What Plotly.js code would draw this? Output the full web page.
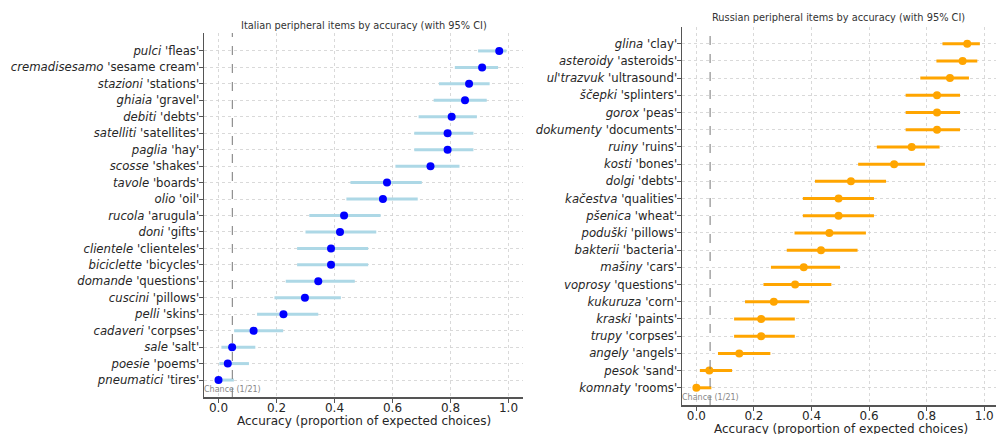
<!DOCTYPE html>
<html>
<head>
<meta charset="utf-8">
<script src="https://cdn.plot.ly/plotly-3.0.1.min.js"></script>
<style>html,body{margin:0;padding:0;background:#fff;}#chart{width:996px;height:434px;}</style>
</head>
<body>
<div id="chart"></div>
<script>
// ---- Italian panel data (top to bottom) ----
const itWords = ["pulci","cremadisesamo","stazioni","ghiaia","debiti","satelliti","paglia","scosse","tavole","olio","rucola","doni","clientele","biciclette","domande","cuscini","pelli","cadaveri","sale","poesie","pneumatici"];
const itGloss = ["fleas","sesame cream","stations","gravel","debts","satellites","hay","shakes","boards","oil","arugula","gifts","clienteles","bicycles","questions","pillows","skins","corpses","salt","poems","tires"];
const itAcc   = [0.968,0.909,0.864,0.850,0.804,0.790,0.790,0.731,0.581,0.567,0.433,0.419,0.388,0.388,0.344,0.298,0.224,0.121,0.047,0.032,0.000];
const itLow   = [0.895,0.815,0.760,0.742,0.690,0.675,0.675,0.610,0.455,0.441,0.313,0.300,0.271,0.271,0.232,0.193,0.133,0.054,0.010,0.003,0.000];
const itHigh  = [0.993,0.964,0.935,0.925,0.891,0.879,0.879,0.831,0.701,0.687,0.559,0.544,0.516,0.516,0.470,0.422,0.344,0.223,0.127,0.105,0.053];

// ---- Russian panel data (top to bottom) ----
const ruWords = ["glina","asteroidy","ul'trazvuk","ščepki","gorox","dokumenty","ruiny","kosti","dolgi","kačestva","pšenica","poduški","bakterii","mašiny","voprosy","kukuruza","kraski","trupy","angely","pesok","komnaty"];
const ruGloss = ["clay","asteroids","ultrasound","splinters","peas","documents","ruins","bones","debts","qualities","wheat","pillows","bacteria","cars","questions","corn","paints","corpses","angels","sand","rooms"];
const ruAcc   = [0.941,0.925,0.881,0.836,0.836,0.836,0.748,0.687,0.537,0.494,0.494,0.462,0.433,0.373,0.343,0.269,0.225,0.225,0.149,0.045,0.000];
const ruLow   = [0.855,0.834,0.778,0.727,0.727,0.727,0.627,0.562,0.412,0.370,0.370,0.341,0.314,0.259,0.233,0.169,0.131,0.131,0.075,0.012,0.000];
const ruHigh  = [0.985,0.976,0.947,0.916,0.916,0.916,0.845,0.794,0.659,0.617,0.617,0.589,0.560,0.499,0.469,0.392,0.342,0.342,0.257,0.124,0.052];

const chance = 1/21;
const FONT = "DejaVu Sans, Liberation Sans, sans-serif";
const TXT = "#262626";

function idx(n){ return Array.from({length:n},(_,i)=>n-1-i); }
function labels(w,g){ return w.map((x,i)=>"<i>"+x+"</i> '"+g[i]+"'"); }

const itY = idx(itWords.length), ruY = idx(ruWords.length);

const traces = [
  {
    type:"scatter", mode:"markers", x:itAcc, y:itY, xaxis:"x", yaxis:"y",
    marker:{color:"#0000ff", size:8},
    error_x:{type:"data", symmetric:false,
      array: itHigh.map((h,i)=>h-itAcc[i]), arrayminus: itLow.map((l,i)=>itAcc[i]-l),
      color:"#add8e6", thickness:3, width:0},
    hoverinfo:"x", showlegend:false
  },
  {
    type:"scatter", mode:"markers", x:ruAcc, y:ruY, xaxis:"x2", yaxis:"y2",
    marker:{color:"#ffa500", size:8},
    error_x:{type:"data", symmetric:false,
      array: ruHigh.map((h,i)=>h-ruAcc[i]), arrayminus: ruLow.map((l,i)=>ruAcc[i]-l),
      color:"#ffa500", thickness:3, width:0},
    hoverinfo:"x", showlegend:false
  }
];

const xCommon = {
  tickvals:[0,0.2,0.4,0.6,0.8,1.0], ticktext:["0.0","0.2","0.4","0.6","0.8","1.0"],
  showgrid:true, gridcolor:"#d0d0d0", griddash:"dot", gridwidth:0.8,
  zeroline:false, showline:true, linecolor:"#555", linewidth:1.5,
  ticks:"outside", ticklen:4, tickcolor:"#555", tickwidth:1, ticklabelstandoff:-5,
  tickfont:{family:FONT, size:12, color:TXT},
  fixedrange:true
};
const yCommon = {
  showgrid:true, gridcolor:"#d0d0d0", griddash:"dot", gridwidth:0.8,
  zeroline:false, showline:true, linecolor:"#555", linewidth:1.5,
  ticks:"outside", ticklen:4, tickcolor:"#555", tickwidth:1, ticklabelstandoff:-3,
  tickfont:{family:FONT, size:11.7, color:TXT}, fixedrange:true
};

const layout = {
  width:996, height:434,
  margin:{l:0,r:0,t:0,b:0},
  paper_bgcolor:"#fff", plot_bgcolor:"rgba(0,0,0,0)",
  font:{family:FONT, color:TXT},
  xaxis: Object.assign({}, xCommon, {domain:[204/996, 523/996], range:[-0.05,1.05], anchor:"y"}),
  yaxis: Object.assign({}, yCommon, {domain:[1-397/434, 1-33/434], range:[-1.03,21.09], anchor:"x",
            tickvals:itY, ticktext:labels(itWords,itGloss)}),
  xaxis2: Object.assign({}, xCommon, {domain:[682/996, 1], range:[-0.05,1.041], anchor:"y2"}),
  yaxis2: Object.assign({}, yCommon, {domain:[1-405/434, 1-27/434], range:[-1.0,20.97], anchor:"x2",
            tickvals:ruY, ticktext:labels(ruWords,ruGloss)}),
  shapes:[
    {type:"line", xref:"x", yref:"y domain", x0:chance, x1:chance, y0:0, y1:1, line:{color:"#777", width:1, dash:"dash"}},
    {type:"line", xref:"x2", yref:"y2 domain", x0:chance, x1:chance, y0:0, y1:1, line:{color:"#777", width:1, dash:"dash"}}
  ],
  annotations:[
    {text:"Italian peripheral items by accuracy (with 95% CI)", xref:"paper", yref:"paper",
     x:363.5/996, y:1-25/434, xanchor:"center", yanchor:"middle", showarrow:false, font:{family:FONT, size:9.8, color:"#333"}},
    {text:"Russian peripheral items by accuracy (with 95% CI)", xref:"paper", yref:"paper",
     x:838/996, y:1-17/434, xanchor:"center", yanchor:"middle", showarrow:false, font:{family:FONT, size:9.8, color:"#333"}},
    {text:"Accuracy (proportion of expected choices)", xref:"paper", yref:"paper",
     x:363.5/996, y:1-421/434, xanchor:"center", yanchor:"middle", showarrow:false, font:{family:FONT, size:12, color:TXT}},
    {text:"Accuracy (proportion of expected choices)", xref:"paper", yref:"paper",
     x:840.5/996, y:1-428.5/434, xanchor:"center", yanchor:"middle", showarrow:false, font:{family:FONT, size:12, color:TXT}},
    {text:"Chance (1/21)", xref:"x", yref:"y", x:chance, y:-0.55, xanchor:"center", yanchor:"middle", showarrow:false,
     font:{family:FONT, size:8, color:"#888"}},
    {text:"Chance (1/21)", xref:"x2", yref:"y2", x:chance, y:-0.56, xanchor:"center", yanchor:"middle", showarrow:false,
     font:{family:FONT, size:8, color:"#888"}}
  ]
};

Plotly.newPlot("chart", traces, layout, {displayModeBar:false, staticPlot:true});
</script>
</body>
</html>
